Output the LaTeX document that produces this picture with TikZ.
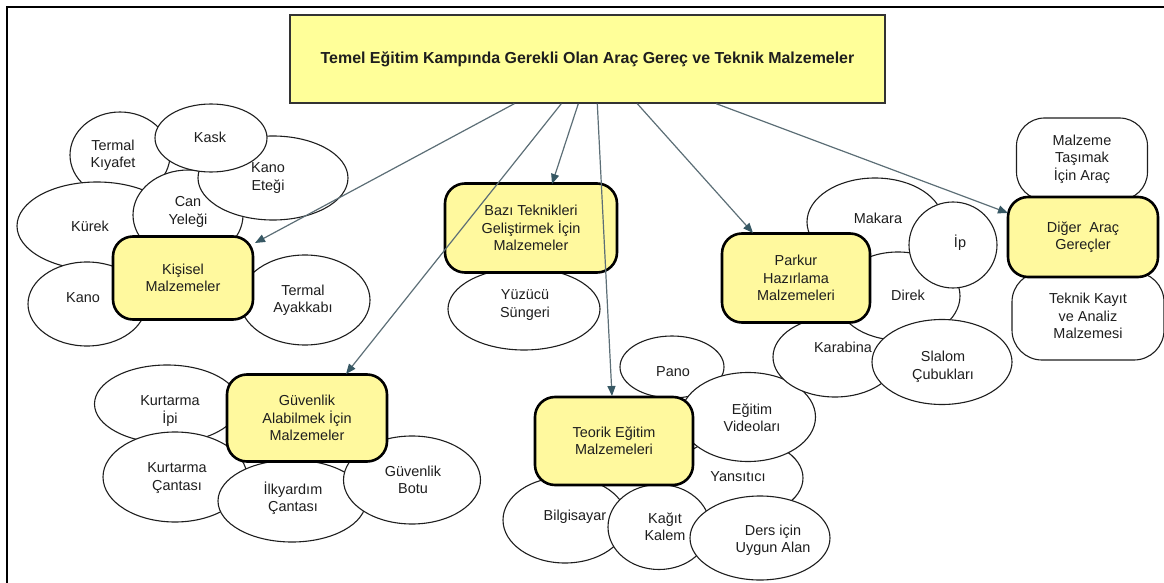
\documentclass[tikz,border=0pt]{standalone}
\usepackage{fontspec}
\setmainfont{Liberation Sans}
\usetikzlibrary{shapes.geometric,arrows.meta}
\definecolor{boxyellow}{RGB}{255,249,158}
\definecolor{headyellow}{RGB}{255,255,153}
\definecolor{linkgray}{RGB}{92,110,118}
\definecolor{tipteal}{RGB}{55,88,100}
\definecolor{inkdark}{RGB}{30,30,30}

% one white ellipse with its label: name, centre x, centre y, width, height, label x, label y, text
\newcommand\itemblob[8]{%
  \node[ell, minimum width=#4bp, minimum height=#5bp] (#1) at (#2,#3) {};
  \node[txt] (#1-t) at (#6,#7) {#8};}

\begin{document}
\begin{tikzpicture}[x=1bp,y=-1bp,
  txt/.style={font=\fontsize{14.5}{17.5}\selectfont, text=inkdark, align=center, inner sep=0pt},
  ell/.style={ellipse, draw=inkdark, line width=1.1bp, fill=white, inner sep=0pt},
  grp/.style={rectangle, draw=black, line width=2.6bp, fill=boxyellow, rounded corners=20bp, txt},
  soft/.style={rectangle, draw=inkdark, line width=1.1bp, fill=white, rounded corners=#1, txt},
  head/.style={rectangle, draw=black!80, line width=1.4bp, fill=headyellow,
    font=\bfseries\fontsize{16}{19}\selectfont, text=inkdark, inner sep=0pt},
  link/.style={draw=linkgray, line width=1.2bp,
    -{Triangle[length=10bp,width=8bp,color=tipteal,fill=tipteal]}}
]
\useasboundingbox (0,0) rectangle (1164,583);

% page frame
\draw[line width=2bp, black] (1164,7) -- (7,7) -- (7,583);

% title
\node[head, minimum width=595bp, minimum height=88bp] (title) at (587.5,59)
  {Temel Eğitim Kampında Gerekli Olan Araç Gereç ve Teknik Malzemeler};

% --- Kişisel Malzemeler ---
\itemblob{tkiy}{120}{155}{100}{86}{113}{155}{Termal\\Kıyafet}
\itemblob{kurek}{97}{226}{160}{88}{90}{226}{Kürek}
\itemblob{kano}{87}{304}{118}{84}{83}{298}{Kano}
\itemblob{can}{188}{215}{110}{90}{188}{212}{Can\\Yeleği}
\itemblob{etek}{273}{178}{150}{84}{268}{178}{Kano\\Eteği}
\itemblob{kask}{211}{138}{112}{68}{210}{137}{Kask}
\itemblob{tayak}{305}{300}{130}{90}{303}{300}{Termal\\Ayakkabı}
\node[grp, minimum width=140bp, minimum height=83bp] (kis) at (183,278) {Kişisel\\Malzemeler};

% --- Bazı Teknikleri Geliştirmek İçin Malzemeler ---
\itemblob{sunger}{524}{309}{152}{82}{525}{305}{Yüzücü\\Süngeri}
\node[grp, minimum width=172bp, minimum height=89bp] (baz) at (531,228)
  {Bazı Teknikleri\\Geliştirmek İçin\\Malzemeler};

% --- Güvenlik Alabilmek İçin Malzemeler ---
\itemblob{kip}{167}{404}{145}{78}{170}{411}{Kurtarma\\İpi}
\itemblob{kcan}{175}{477}{144}{90}{177}{478}{Kurtarma\\Çantası}
\itemblob{ilk}{292}{501}{148}{82}{293}{498}{İlkyardım\\Çantası}
\itemblob{bot}{412}{480}{137}{88}{413}{480}{Güvenlik\\Botu}
\node[grp, minimum width=160bp, minimum height=87bp] (guv) at (307,418)
  {Güvenlik\\Alabilmek İçin\\Malzemeler};

% --- Teorik Eğitim Malzemeleri ---
\itemblob{pano}{672}{367}{104}{62}{673}{372}{Pano}
\itemblob{yans}{738}{478}{130}{80}{738}{477}{Yansıtıcı}
\itemblob{video}{748}{417}{135}{89}{752}{418}{Eğitim\\Videoları}
\itemblob{pc}{565}{520}{124}{86}{575}{517}{Bilgisayar}
\itemblob{kagit}{659}{527}{102}{85}{665}{527}{Kağıt\\Kalem}
\itemblob{ders}{760}{538}{140}{84}{773}{540}{Ders için\\Uygun Alan}
\node[grp, minimum width=158bp, minimum height=88bp] (teo) at (614,441)
  {Teorik Eğitim\\Malzemeleri};

% --- Parkur Hazırlama Malzemeleri ---
\itemblob{makara}{875}{222}{136}{88}{878}{218}{Makara}
\itemblob{karab}{835}{357}{124}{80}{843}{347}{Karabina}
\itemblob{direk}{898}{296}{124}{88}{908}{295}{Direk}
\itemblob{ip}{953}{245}{88}{86}{960}{243}{İp}
\itemblob{slalom}{942}{362}{140}{85}{943}{367}{Slalom\\Çubukları}
\node[grp, minimum width=148bp, minimum height=89bp] (par) at (796,278)
  {Parkur\\Hazırlama\\Malzemeleri};

% --- Diğer Araç Gereçler ---
\node[soft=28bp, minimum width=131bp, minimum height=82bp] (tasi) at (1082,159)
  {Malzeme\\Taşımak\\İçin Araç};
\node[soft=30bp, minimum width=152bp, minimum height=88bp] (kayit) at (1088,316)
  {Teknik Kayıt\\ve Analiz\\Malzemesi};
\node[grp, minimum width=150bp, minimum height=80bp] (dig) at (1083,237)
  {Diğer~ Araç\\Gereçler};

% connector ends on the title box
\path (title.south west) ++(225,0) coordinate (s1);
\path (title.south west) ++(272,0) coordinate (s2);
\path (title.south west) ++(289,0) coordinate (s3);
\path (title.south west) ++(308,0) coordinate (s4);
\path (title.south west) ++(348,0) coordinate (s5);
\path (title.south west) ++(427,0) coordinate (s6);

% arrow tips at the group boxes
\coordinate (e1) at (255,243);
\coordinate (e2) at (346,374);
\coordinate (e3) at (552,184);
\coordinate (e4) at (612,396);
\coordinate (e5) at (753,233);
\coordinate (e6) at (1008,213);

\draw[link] (s1) -- (e1);
\draw[link] (s2) -- (e2);
\draw[link] (s3) -- (e3);
\draw[link] (s4) -- (e4);
\draw[link] (s5) -- (e5);
\draw[link] (s6) -- (e6);
\end{tikzpicture}
\end{document}
